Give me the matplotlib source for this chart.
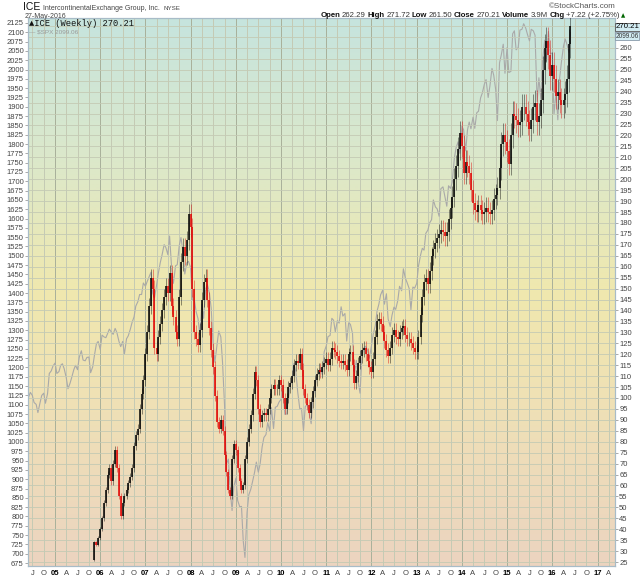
import matplotlib
matplotlib.use('Agg')
import matplotlib.pyplot as plt
import matplotlib.dates as mdates
from matplotlib.colors import LinearSegmentedColormap
import numpy as np
import pandas as pd

# ICE weekly chart, sampled twice a month (1st / 15th), last point = 27 May 2016
ice_first_open = 26.0
ice_close = [
    34, 33, 36,                                                     # 2005 (Nov 15 ->)
    40, 45, 52, 58, 65, 68, 62, 70, 76, 68, 55, 46,
    52, 55, 58, 61, 64, 68, 78, 83, 86, 95, 102, 108,               # 2006
    120, 130, 142, 155, 150, 123, 120, 128, 134, 140, 146, 151,
    148, 157, 142, 137, 130, 127, 146, 162, 169, 165, 172, 184,     # 2007
    178, 150, 130, 127, 124, 131, 145, 153, 155, 145, 132, 122,
    114, 101, 89, 86, 90, 85, 74, 66, 58, 55, 72, 79,               # 2008
    76, 68, 62, 58, 60, 72, 80, 86, 92, 102, 112, 108,
    95, 89, 92, 93, 92, 95, 100, 104, 106, 104, 104, 108,           # 2009
    106, 100, 95, 100, 105, 107, 110, 115, 117, 116, 120, 113,
    104, 100, 97, 93, 98, 103, 108, 111, 113, 112, 114, 116,        # 2010
    118, 115, 118, 123, 122, 121, 119, 117, 116, 117, 115, 113,
    120, 121, 115, 107, 110, 116, 119, 122, 123, 120, 117, 114,     # 2011
    112, 118, 128, 135, 136, 134, 130, 126, 122, 119, 123, 129,
    131, 128, 127, 130, 132, 133, 129, 127, 127, 125, 123, 121,     # 2012
    121, 128, 138, 146, 153, 155, 152, 158, 165, 168, 171, 173,
    175, 177, 176, 174, 176, 182, 187, 192, 200, 206, 214, 221,     # 2013
    215, 203, 208, 206, 203, 195, 189, 186, 185, 188, 186, 184,
    185, 187, 185, 184, 186, 191, 193, 196, 205, 216, 220, 217,     # 2014
    213, 207, 220, 230, 229, 227, 225, 226, 233, 233, 230, 226,
    223, 227, 233, 235, 226, 229, 236, 250, 260, 263, 257, 247,     # 2015
    252, 246, 238, 240, 236, 234, 236, 239, 246, 262,               # 2016
    270.21,
]

spx_close = [
    1121, 1133, 1125, 1106, 1101, 1079, 1105, 1125, 1131, 1104, 1130, 1184, 1191, 1204,   # 2004 (Jun ->)
    1212, 1184, 1189, 1206, 1210, 1197, 1173, 1143, 1157, 1173, 1194, 1206,
    1194, 1227, 1245, 1220, 1218, 1227, 1228, 1186, 1202, 1233, 1264, 1270,   # 2005
    1248, 1287, 1282, 1280, 1291, 1303, 1295, 1289, 1305, 1294, 1270, 1256,
    1270, 1236, 1277, 1285, 1303, 1321, 1336, 1365, 1377, 1396, 1396, 1427,   # 2006
    1418, 1431, 1445, 1456, 1399, 1387, 1421, 1453, 1482, 1502, 1530, 1522,
    1503, 1553, 1465, 1426, 1473, 1476, 1527, 1549, 1509, 1451, 1481, 1485,   # 2007
    1468, 1380, 1380, 1349, 1331, 1288, 1370, 1332, 1409, 1423, 1400, 1360,
    1262, 1214, 1260, 1298, 1282, 1213, 1099, 940, 954, 873, 816, 880,        # 2008
    903, 843, 826, 827, 735, 690, 811, 858, 873, 893, 919, 946,
    919, 940, 987, 1012, 1020, 1052, 1029, 1092, 1036, 1093, 1096, 1107,      # 2009
    1115, 1136, 1074, 1075, 1115, 1150, 1169, 1211, 1187, 1135, 1089, 1090,
    1030, 1095, 1101, 1079, 1049, 1121, 1141, 1176, 1184, 1199, 1180, 1242,   # 2010
    1258, 1283, 1286, 1332, 1327, 1296, 1326, 1319, 1363, 1338, 1345, 1271,
    1320, 1316, 1292, 1178, 1219, 1162, 1131, 1224, 1253, 1257, 1246, 1225,   # 2011
    1258, 1289, 1312, 1351, 1370, 1395, 1408, 1370, 1398, 1330, 1310, 1340,
    1362, 1356, 1380, 1418, 1406, 1465, 1440, 1428, 1412, 1355, 1416, 1413,   # 2012
    1426, 1472, 1502, 1520, 1515, 1560, 1569, 1588, 1597, 1650, 1631, 1626,
    1606, 1680, 1685, 1661, 1633, 1688, 1681, 1698, 1762, 1790, 1806, 1775,   # 2013
    1848, 1838, 1782, 1838, 1859, 1841, 1872, 1842, 1884, 1888, 1924, 1937,
    1960, 1973, 1925, 1955, 2003, 1985, 1946, 1863, 2018, 2039, 2068, 1990,   # 2014
    2059, 1992, 1995, 2096, 2104, 2053, 2059, 2106, 2108, 2123, 2111, 2094,
    2077, 2108, 2104, 2092, 1914, 1978, 1920, 2023, 2079, 2023, 2102, 2043,   # 2015
    2044, 1880, 1940, 1865, 1978, 2020, 2063, 2082, 2065, 2046,               # 2016
    2099.06,
]

last_day = '2016-05-27'
ice_dates = list(pd.date_range('2005-11-15', periods=len(ice_close) - 1, freq='SMS')) + [pd.Timestamp(last_day)]
spx_dates = list(pd.date_range('2004-06-01', periods=len(spx_close) - 1, freq='SMS')) + [pd.Timestamp(last_day)]

ice_ticks = list(range(25, 275, 5))
spx_ticks = list(range(675, 2150, 25))
header_labels = ['Open', 'High', 'Low', 'Close', 'Volume', 'Chg']
header_vals = ['262.29', '271.72', '261.50', '270.21', '3.9M', '+7.22 (+2.75%)']

W, H = 640, 576
fig = plt.figure(figsize=(W / 100, H / 100), dpi=100)
FONT = 'Liberation Sans'


def px(x, y):
    return x / W, 1 - y / H


ax = fig.add_axes([28 / W, 1 - 566 / H, (615 - 28) / W, (566 - 18) / H])
ax2 = ax.twinx()

# background gradient (teal on top -> yellow -> peach at the bottom)
grad = LinearSegmentedColormap.from_list('bg', [
    (0.0, '#c6e4de'), (0.25, '#dbe8cb'), (0.5, '#f0e8ae'), (0.72, '#efe0b6'), (1.0, '#ecd4c0')])
ax.imshow(np.linspace(0, 1, 256).reshape(-1, 1), cmap=grad, aspect='auto', origin='upper',
          extent=[0, 1, 0, 1], transform=ax.transAxes, zorder=0)

x0 = mdates.date2num(pd.Timestamp('2004-05-27'))
x1 = mdates.date2num(pd.Timestamp('2017-05-22'))

# vertical grid at quarters
quarters = pd.date_range('2004-07-01', '2017-04-01', freq='QS')
for q in quarters:
    c = '#a8b09a' if q.month == 1 else '#c4cab4'
    ax.axvline(mdates.date2num(q), color=c, lw=0.7, zorder=1)

# SPX line (left axis)
ax.plot(mdates.date2num(spx_dates), spx_close, color='#a9a9a9', lw=0.8, zorder=2)
ax.set_xlim(x0, x1)
ax.set_ylim(667, 2138.4)

# horizontal grid follows ICE scale
for t in ice_ticks:
    ax2.axhline(t, color='#c4cab4', lw=0.6, zorder=0)

# ICE candles (right axis)
opens = [ice_first_open] + ice_close[:-1]
xs = mdates.date2num(ice_dates)
pad = 0.025
for xv, o, c in zip(xs, opens, ice_close):
    col = '#000000' if c >= o else '#e00000'
    hi = max(o, c) * (1 + pad)
    lo = min(o, c) * (1 - pad)
    ax2.vlines(xv, lo, hi, color=col, lw=0.5, alpha=0.6, zorder=3)
    ax2.vlines(xv, min(o, c), max(o, c), color=col, lw=1.1, zorder=4)
ax2.set_ylim(23.2, 273.7)
ax2.set_xlim(x0, x1)

# axes styling (top two right labels sit under the value boxes, so they stay blank)
ax.yaxis.tick_left()
ax2.yaxis.tick_right()
ax.set_yticks(spx_ticks)
ax.set_yticklabels([str(v) for v in spx_ticks])
ax2.set_yticks(ice_ticks)
ax2.set_yticklabels([str(v) if v <= 260 else '' for v in ice_ticks])
for a in (ax, ax2):
    a.tick_params(axis='y', labelsize=5.5, length=2, width=0.5, color='#888888',
                  labelcolor='#444444', pad=1)
    for lbl in a.get_yticklabels():
        lbl.set_fontfamily(FONT)
    for s in a.spines.values():
        s.set_color('#a8bcc8')
        s.set_linewidth(0.8)

ax.set_xticks([mdates.date2num(q) for q in quarters])
xlabels = []
for q in quarters:
    if q.month == 1:
        xlabels.append(q.strftime('%y'))
    else:
        xlabels.append({4: 'A', 7: 'J', 10: 'O'}[q.month])
ax.set_xticklabels(xlabels)
ax.tick_params(axis='x', labelsize=5.5, length=0, pad=3, labelcolor='#444444')
for q, lbl in zip(quarters, ax.get_xticklabels()):
    lbl.set_fontfamily(FONT)
    if q.month == 1:
        lbl.set_fontweight('bold')
        lbl.set_color('#000000')
ax2.tick_params(axis='x', length=0, labelbottom=False)

renderer = fig.canvas.get_renderer()


def place_row(x, y, parts, gap=2.0):
    # parts: (text, kwargs); placed left to right without overlap
    for txt, kw in parts:
        t = fig.text(*px(x, y), txt, va='baseline', **kw)
        x = x + t.get_window_extent(renderer).width + gap
    return x


# header
place_row(23, 10, [
    ('ICE', dict(fontsize=7.5, family=FONT, color='#111111')),
    ('IntercontinentalExchange Group, Inc.', dict(fontsize=5, family=FONT, color='#444444')),
    ('NYSE', dict(fontsize=4.5, family=FONT, color='#444444')),
], gap=3)
fig.text(*px(25, 17.5), '27-May-2016', fontsize=5, family=FONT, color='#444444', va='baseline')
fig.text(*px(616, 8), '\u00a9StockCharts.com', fontsize=5.8, family=FONT, color='#555555',
         ha='right', va='baseline')

parts = []
for lab, val in zip(header_labels, header_vals):
    parts.append((lab, dict(fontsize=5.6, family=FONT, weight='bold', color='#111111')))
    parts.append((val, dict(fontsize=5.6, family=FONT, color='#333333')))
parts.append(('\u25b2', dict(fontsize=4, family='DejaVu Sans', color='#006600')))
place_row(320.5, 17, parts, gap=1.6)

# legend inside plot
fig.text(*px(29, 26), '\u25b2ICE (Weekly) 270.21', fontsize=6.3, family='Liberation Mono',
         color='#111111', va='baseline')
fig.text(*px(29, 33), '\u2014 $SPX 2099.06', fontsize=4.6, family=FONT, color='#999999', va='baseline')

# value boxes on the right
fig.text(*px(616, 27), '270.21', fontsize=5.6, family=FONT, color='#000000', va='center',
         bbox=dict(boxstyle='square,pad=0.08', fc='#d2ecf2', ec='#555555', lw=0.6))
fig.text(*px(615.5, 36), '2099.06', fontsize=4.7, family=FONT, color='#333333', va='center',
         bbox=dict(boxstyle='square,pad=0.06', fc='#d2ecf2', ec='#8899aa', lw=0.6))

fig.savefig('out.png', dpi=100)
